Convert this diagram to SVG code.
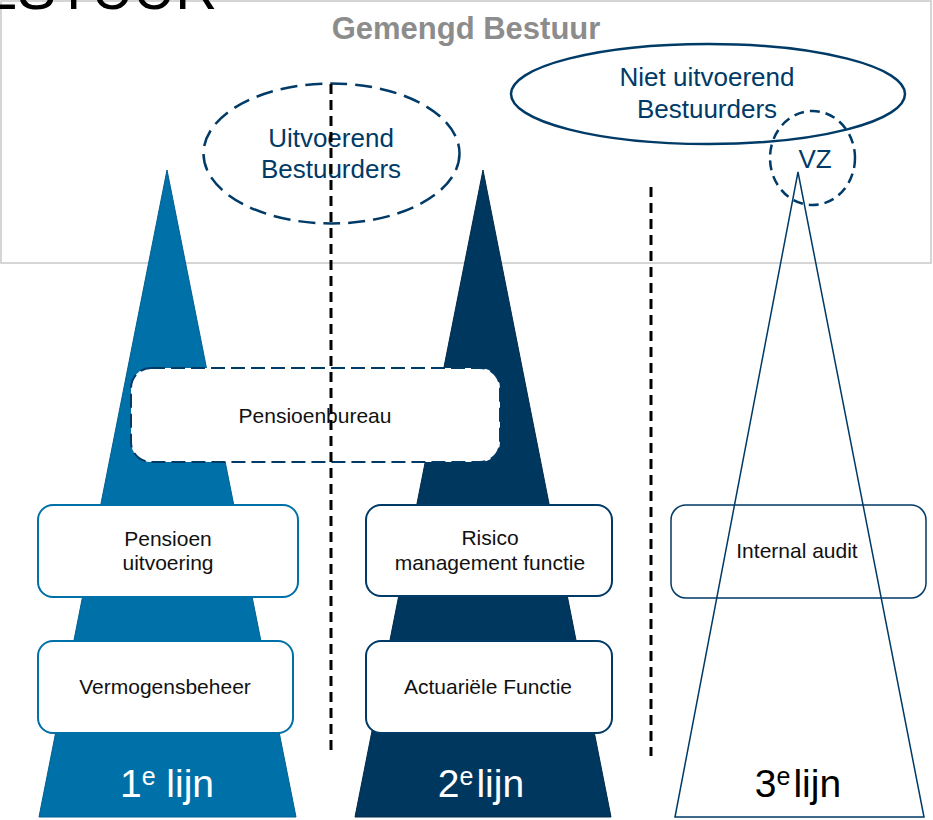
<svg xmlns="http://www.w3.org/2000/svg" width="933" height="820" viewBox="0 0 933 820">
<style>
text{font-family:"Liberation Sans",Arial,sans-serif}
.lbl{font-size:21px;fill:#111;text-anchor:middle}
.big{font-size:26px;fill:#003a66;text-anchor:middle}
.box{fill:#fff;stroke-width:2}
.dash{stroke:#000;stroke-width:3;stroke-dasharray:10 6;fill:none}
.lijn{font-size:39px;text-anchor:middle}
</style>
<rect width="933" height="820" fill="#fff"/>
<g id="frame">
<rect x="1" y="1" width="930" height="262" fill="none" stroke="#c8c8c8" stroke-width="1.5"/>
<text x="-60" y="9" font-size="58" fill="#000">BESTUUR</text>
<text x="466" y="39" font-size="31" font-weight="bold" fill="#8c8c8c" text-anchor="middle">Gemengd Bestuur</text>
</g>
<g id="lijn1">
<polygon points="167,170 296,817 39,817" fill="#0070a8" stroke="#005f90" stroke-width="1"/>
</g>
<g id="lijn2">
<polygon points="483,170 611,817 355,817" fill="#00375f" stroke="#002a4a" stroke-width="1"/>
</g>
<g id="uitvoerend">
<ellipse cx="331.5" cy="153.5" rx="128" ry="70" fill="none" stroke="#003a66" stroke-width="2.5" stroke-dasharray="17 8"/>
<text class="big" x="331" y="147">Uitvoerend</text>
<text class="big" x="331" y="178">Bestuurders</text>
</g>
<g id="niet-uitvoerend">
<ellipse cx="708" cy="94" rx="197" ry="50" fill="none" stroke="#003a66" stroke-width="2.5"/>
<text class="big" x="707" y="86">Niet uitvoerend</text>
<text class="big" x="707" y="118">Bestuurders</text>
</g>
<g id="vz">
<ellipse cx="812.5" cy="158" rx="42.5" ry="47" fill="none" stroke="#003a66" stroke-width="2.5" stroke-dasharray="10 6"/>
<text class="big" x="815" y="168" font-size="24">VZ</text>
</g>
<g id="pensioenbureau">
<rect class="box" x="131" y="368" width="369" height="94" rx="20" stroke="#003a66" stroke-width="2.5" stroke-dasharray="14 6"/>
<text class="lbl" x="315" y="423">Pensioenbureau</text>
</g>
<g id="pensioen-uitvoering">
<rect class="box" x="38" y="505" width="260" height="92" rx="15" stroke="#0070a8"/>
<text class="lbl" x="168" y="546">Pensioen</text>
<text class="lbl" x="168" y="570">uitvoering</text>
</g>
<g id="risico">
<rect class="box" x="366" y="505" width="246" height="91" rx="15" stroke="#003a66"/>
<text class="lbl" x="490" y="545">Risico</text>
<text class="lbl" x="490" y="570">management functie</text>
</g>
<g id="vermogensbeheer">
<rect class="box" x="38" y="641" width="255" height="92" rx="15" stroke="#0070a8"/>
<text class="lbl" x="165" y="694">Vermogensbeheer</text>
</g>
<g id="actuarieel">
<rect class="box" x="366" y="641" width="246" height="92" rx="15" stroke="#003a66"/>
<text class="lbl" x="488" y="694">Actuariële Functie</text>
</g>
<g id="internal-audit">
<rect x="671" y="505" width="255" height="93" rx="15" fill="none" stroke="#003a66" stroke-width="1.5"/>
<text class="lbl" x="797" y="558">Internal audit</text>
</g>
<g id="lijn3">
<polygon points="798,172 924,817 675,817" fill="none" stroke="#003a66" stroke-width="1.5"/>
</g>
<g id="labels">
<text class="lijn" x="167" y="797" fill="#fff">1<tspan font-size="25" dy="-12">e</tspan><tspan dy="12"> lijn</tspan></text>
<text class="lijn" x="481" y="797" fill="#fff">2<tspan font-size="25" dy="-12">e</tspan><tspan dy="12" dx="3">lijn</tspan></text>
<text class="lijn" x="798" y="797" fill="#000">3<tspan font-size="25" dy="-12">e</tspan><tspan dy="12" dx="3">lijn</tspan></text>
</g>
<g id="connectors">
<line class="dash" x1="331" y1="84" x2="331" y2="756"/>
<line class="dash" x1="651" y1="187" x2="651" y2="756"/>
</g>
</svg>
